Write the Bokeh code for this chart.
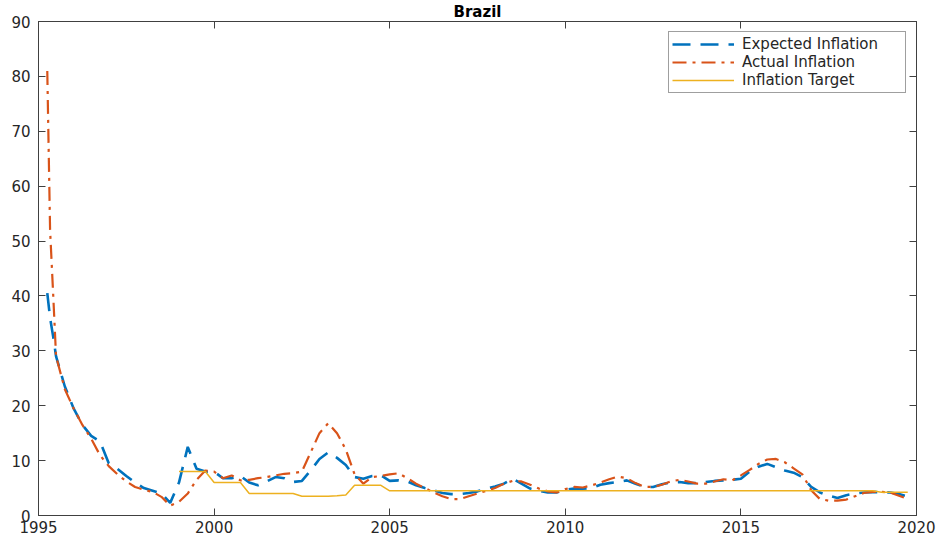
from bokeh.plotting import figure
from bokeh.models import LinearAxis, Legend, LegendItem, FixedTicker, ColumnDataSource, Range1d, Title
from bokeh.embed import file_html
from bokeh.resources import INLINE

NaN = float("nan")

# decimal-year dates (three early points, then quarterly)
dates = [1995.25, 1995.33, 1995.42] + [round(1995.5 + 0.25 * i, 2) for i in range(98)]

expected = [40.5, 36.0, 32.5,
            29.0, 23.5, 19.5, 16.5, 14.5, 13.5, 9.5, 8.5, 7.2, 6.0, 5.0, 4.5, 4.0, 2.3,
            6.0, 12.5, 8.5, 8.0, 8.0, 6.8, 6.8, 7.2, 6.0, 5.5, 6.2, 7.0, 6.8, 6.1, 6.3, 8.2,
            10.3, 11.5, 10.5, 9.2, 7.0, 6.7, 7.2, 7.3, 6.3, 6.4, 6.2, 5.5, 5.0, 4.6, 4.1, 3.9,
            3.9, 4.1, 4.4, 4.9, 5.3, 5.8, 6.7, 5.8, 4.9, 4.5, 4.2, 4.2, 4.7, 4.9, 4.9, 5.0,
            5.6, 5.9, 6.1, 6.4, 5.8, 5.2, 5.2, 5.7, 6.0, 6.1, 5.9, 5.9, 6.1, 6.3, 6.4, 6.5,
            6.7, 8.0, 8.9, 9.4, 8.8, 8.2, 7.8, 7.0, 5.2, 4.2, 3.6, 3.2, 3.7, 4.0, 4.2, 4.25,
            4.25, 4.2, 3.9, 3.45]

actual = [81.0, 52.0, 40.0,
          29.0, 23.0, 19.5, 16.5, 14.0, 11.0, 9.0, 7.5, 6.2, 5.2, 4.7, 4.3, 3.4, 1.8,
          2.5, 4.0, 6.5, 8.2, 8.0, 6.8, 7.3, 6.4, 6.5, 6.8, 7.0, 7.3, 7.6, 7.7, 8.0, 11.5,
          15.0, 16.8, 15.0, 12.0, 7.5, 5.8, 7.0, 7.2, 7.5, 7.7, 6.8, 5.8, 5.0, 4.2, 3.5, 3.0,
          3.0, 3.5, 4.0, 4.5, 5.0, 5.8, 6.3, 6.2, 5.6, 4.9, 4.4, 4.2, 4.8, 5.2, 5.1, 5.5,
          6.0, 6.6, 7.1, 6.8, 5.9, 5.2, 5.2, 5.6, 6.2, 6.5, 6.2, 5.8, 5.8, 6.2, 6.6, 6.4,
          7.3, 8.3, 9.4, 10.2, 10.3, 9.7, 8.6, 7.5, 4.6, 3.0, 2.7, 2.7, 2.9, 3.5, 4.1, 4.3,
          4.3, 4.2, 3.6, 3.0]

target = ([NaN] * 17 + [8.0] * 4 + [6.0] * 4 + [4.0] * 6 + [3.5] * 4 + [3.6, 3.75]
          + [5.5] * 4 + [4.5] * 56 + [4.25] * 4)

x_ticks = [1995, 2000, 2005, 2010, 2015, 2020]
y_ticks = [0, 10, 20, 30, 40, 50, 60, 70, 80, 90]

title_text = "Brazil"
series_names = ["Expected Inflation", "Actual Inflation", "Inflation Target"]

assert len(dates) == len(expected) == len(actual) == len(target)

src = ColumnDataSource(dict(t=dates, e=expected, a=actual, g=target))

FONT = "DejaVu Sans"
AX = "#404040"

p = figure(width=939, height=539, output_backend="svg", toolbar_location=None,
           x_range=Range1d(1995, 2020), y_range=Range1d(0, 90),
           min_border_left=38, min_border_right=23, min_border_top=21, min_border_bottom=24)
p.title = Title(text=title_text, align="center", text_font=FONT, text_font_size="15px",
                text_font_style="bold", text_color="black", standoff=1, offset=0)
p.xgrid.visible = False
p.ygrid.visible = False
p.outline_line_color = AX
p.outline_line_width = 1
p.background_fill_color = "white"
p.border_fill_color = "white"

def style_axis(ax, labels=True):
    ax.axis_line_color = AX
    ax.major_tick_line_color = AX
    ax.major_tick_in = 7
    ax.major_tick_out = 0
    ax.minor_tick_line_color = None
    ax.major_label_text_font = FONT
    if labels:
        ax.major_label_text_font_size = "15px"
        ax.major_label_text_color = "#262626"
    else:
        ax.major_label_text_font_size = "1px"
        ax.major_label_text_color = None
        ax.major_label_standoff = 0

p.xaxis.ticker = FixedTicker(ticks=x_ticks)
p.yaxis.ticker = FixedTicker(ticks=y_ticks)
style_axis(p.xaxis[0])
style_axis(p.yaxis[0])
p.xaxis.major_label_standoff = 5
p.yaxis.major_label_standoff = 8

right_ax = LinearAxis(ticker=FixedTicker(ticks=y_ticks))
style_axis(right_ax, labels=False)
p.add_layout(right_ax, "right")
top_ax = LinearAxis(ticker=FixedTicker(ticks=x_ticks))
style_axis(top_ax, labels=False)
p.add_layout(top_ax, "above")

r_exp = p.line("t", "e", source=src, line_color="#0072BD", line_width=2.6, line_dash="18 10")
r_act = p.line("t", "a", source=src, line_color="#D95319", line_width=2.2, line_dash="14 6 3 6")
r_tgt = p.line("t", "g", source=src, line_color="#EDB120", line_width=1.5)

legend = Legend(items=[LegendItem(label=series_names[0], renderers=[r_exp]),
                       LegendItem(label=series_names[1], renderers=[r_act]),
                       LegendItem(label=series_names[2], renderers=[r_tgt])],
                location="top_right", margin=10, padding=3, spacing=0,
                glyph_width=62, glyph_height=16, label_height=16, label_standoff=8,
                label_width=160,
                label_text_font=FONT, label_text_font_size="15px", label_text_color="#262626",
                border_line_color=AX, border_line_width=1, background_fill_alpha=1)
p.add_layout(legend)

open("out.html", "w").write(file_html(p, INLINE))
